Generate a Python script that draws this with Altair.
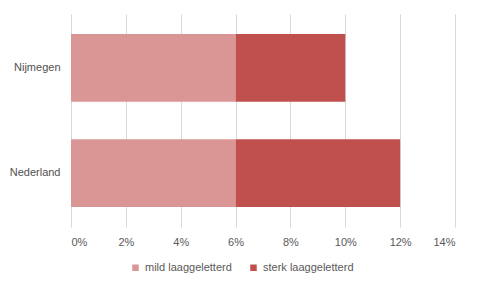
import altair as alt
import pandas as pd

regions = ["Nijmegen", "Nederland"]
series = ["mild laaggeletterd", "sterk laaggeletterd"]
mild = [0.06, 0.06]
sterk = [0.04, 0.06]

rows = []
for i, r in enumerate(regions):
    rows.append({"regio": r, "soort": series[0], "waarde": mild[i], "o": 0})
    rows.append({"regio": r, "soort": series[1], "waarde": sterk[i], "o": 1})
df = pd.DataFrame(rows)

font = "Liberation Sans"
chart = alt.Chart(df).mark_bar().encode(
    y=alt.Y("regio:N", sort=regions, title=None,
            scale=alt.Scale(paddingInner=0.358, paddingOuter=0.19),
            axis=alt.Axis(domain=False, ticks=False, labelPadding=11,
                          labelFontSize=11, labelColor="#505050", labelFont=font)),
    x=alt.X("waarde:Q", stack="zero", title=None,
            scale=alt.Scale(domain=[0, 0.14], nice=False),
            axis=alt.Axis(format=".0%", values=[0, 0.02, 0.04, 0.06, 0.08, 0.10, 0.12, 0.14],
                          domain=False, ticks=False, grid=True, gridColor="#D9D9D9",
                          labelPadding=9, labelFontSize=11, labelColor="#595959",
                          labelFont=font)),
    color=alt.Color("soort:N", sort=series, title=None,
                    scale=alt.Scale(domain=series, range=["#D99694", "#C0504D"]),
                    legend=alt.Legend(orient="none", direction="horizontal",
                                      legendX=59, legendY=248, symbolType="square",
                                      symbolSize=42, symbolStrokeWidth=0,
                                      labelFontSize=11, labelColor="#595959",
                                      labelFont=font, columnPadding=16,
                                      symbolOffset=0, labelOffset=4)),
    order=alt.Order("o:Q"),
).properties(
    width=384, height=213,
    autosize=alt.AutoSizeParams(type="none"),
    padding={"left": 63, "top": 6, "right": 17, "bottom": 53},
).configure_view(stroke=None)

chart.save("out.html", embed_options={"renderer": "svg", "actions": False})
